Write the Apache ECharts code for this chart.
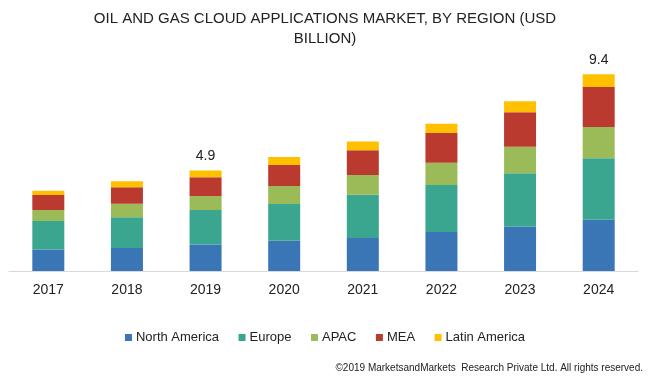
<!DOCTYPE html>
<html>
<head>
<meta charset="utf-8">
<script src="https://cdn.jsdelivr.net/npm/echarts@6/dist/echarts.min.js"></script>
<style>html,body{margin:0;padding:0;background:#fff;}#c{width:650px;height:387px;}</style>
</head>
<body>
<div id="c"></div>
<script>
var years = ['2017','2018','2019','2020','2021','2022','2023','2024'];
var northAmerica = [1.03, 1.10, 1.28, 1.45, 1.59, 1.87, 2.14, 2.46];
var europe       = [1.37, 1.49, 1.65, 1.77, 2.07, 2.27, 2.56, 2.96];
var apac         = [0.53, 0.64, 0.67, 0.87, 0.95, 1.06, 1.27, 1.50];
var mea          = [0.72, 0.80, 0.91, 1.01, 1.19, 1.43, 1.66, 1.93];
var latinAmerica = [0.21, 0.29, 0.32, 0.38, 0.43, 0.45, 0.53, 0.61];
var totalLabels  = ['', '', '4.9', '', '', '', '', '9.4'];

var names = ['North America','Europe','APAC','MEA','Latin America'];
var colors = ['#3a76b5','#3aa68f','#9bbb59','#bb3a30','#ffc000'];
var values = [northAmerica, europe, apac, mea, latinAmerica];

var series = values.map(function(v, i){
  var s = {
    name: names[i], type: 'bar', stack: 'total', data: v,
    barWidth: 32, itemStyle: {color: colors[i]}
  };
  if (i === values.length - 1) {
    s.label = {
      show: true, position: 'top', distance: 7,
      fontFamily: 'Liberation Sans, Arial, sans-serif', fontSize: 14, color: '#222',
      formatter: function(p){ return totalLabels[p.dataIndex]; }
    };
  }
  return s;
});

var chart = echarts.init(document.getElementById('c'));
chart.setOption({
  animation: false,
  title: {
    text: 'OIL AND GAS CLOUD APPLICATIONS MARKET, BY REGION (USD\nBILLION)',
    left: 'center', top: 4,
    textStyle: {fontFamily: 'Liberation Sans Narrow, Arial Narrow, Liberation Sans, sans-serif', fontWeight: 'normal', fontSize: 15, color: '#222', lineHeight: 20}
  },
  legend: {
    data: names, top: 326, left: 'center',
    icon: 'rect', itemWidth: 7, itemHeight: 7, itemGap: 19.5,
    textStyle: {fontFamily: 'Liberation Sans, Arial, sans-serif', fontSize: 13, color: '#222', padding: [0,0,0,-1]}
  },
  grid: {left: 9, right: 12, top: 63, bottom: 116, containLabel: false},
  xAxis: {
    type: 'category', data: years,
    axisLine: {lineStyle: {color: '#d9d9d9'}},
    axisTick: {show: false},
    axisLabel: {fontFamily: 'Liberation Sans, Arial, sans-serif', fontSize: 14, color: '#222', margin: 12}
  },
  yAxis: {type: 'value', min: 0, max: 10, show: false, splitLine: {show: false}},
  graphic: [{
    type: 'text', right: 7, top: 363,
    style: {text: '\u00a92019 MarketsandMarkets  Research Private Ltd. All rights reserved.', fontFamily: 'Liberation Sans, Arial, sans-serif', fontSize: 10, fill: '#222'}
  }],
  series: series
});
</script>
</body>
</html>
